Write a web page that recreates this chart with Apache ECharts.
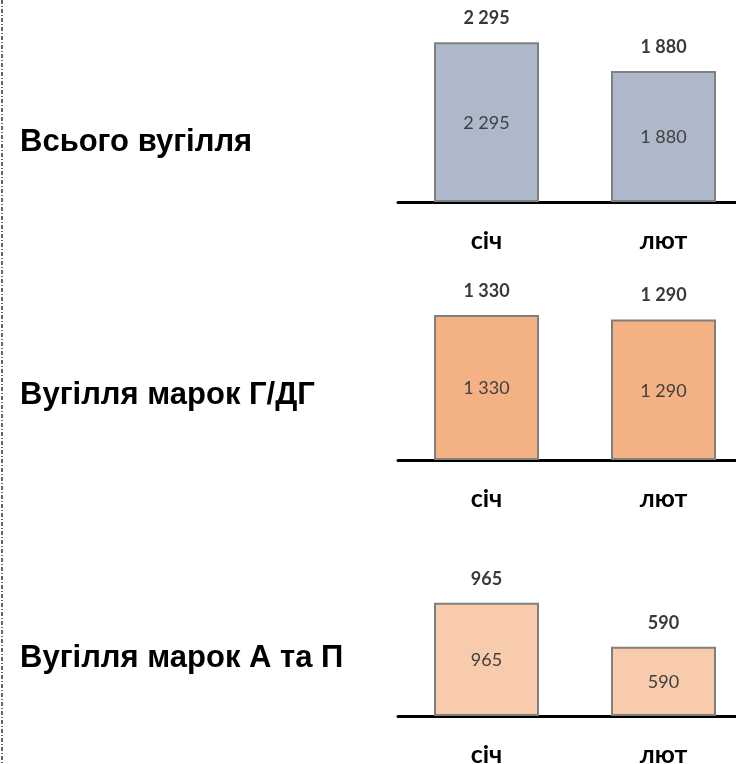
<!DOCTYPE html>
<html><head><meta charset="utf-8">
<script src="https://cdn.jsdelivr.net/npm/echarts@6/dist/echarts.min.js"></script>
<style>html,body{margin:0;padding:0;background:#fff}#c{width:736px;height:764px}</style>
</head><body><div id="c"></div>
<script>
const categories = ['січ', 'лют'];
const titles = ['Всього вугілля', 'Вугілля марок Г/ДГ', 'Вугілля марок А та П'];
const totalCoal = [2295, 1880];
const gdgCoal = [1330, 1290];
const apCoal = [965, 590];
const seriesValues = [totalCoal, gdgCoal, apCoal];

const colors = ['#adb9ca', '#f4b183', '#f8cbad'];
const yMax = [2600, 1450, 1100];
const gridTop = [21, 302, 587];
const gridH = [181, 158, 129];
const titleY = [142.5, 395, 658];

function fmt(v) { return String(v).replace(/\B(?=(\d{3})+(?!\d))/g, ' '); }

const grids = [], xAxes = [], yAxes = [], series = [], graphics = [];
for (let i = 0; i < 3; i++) {
  grids.push({ left: 398, width: 354, top: gridTop[i], height: gridH[i], outerBoundsMode: 'none', containLabel: false });
  xAxes.push({
    type: 'category', gridIndex: i, data: categories,
    axisLine: { lineStyle: { color: '#000', width: 3 } },
    axisTick: { show: false },
    axisLabel: { margin: 26, fontFamily: 'Lato', fontWeight: 'bold', fontSize: 25, color: '#000' }
  });
  yAxes.push({ type: 'value', gridIndex: i, min: 0, max: yMax[i], show: false, splitLine: { show: false } });
  series.push({
    type: 'bar', xAxisIndex: i, yAxisIndex: i, data: seriesValues[i], barWidth: 105,
    itemStyle: { color: colors[i], borderColor: '#7f7f7f', borderWidth: 2 },
    label: { show: true, position: 'inside', offset: [0, 1], formatter: p => fmt(p.value), fontFamily: 'Lato', fontSize: 18, color: '#404040' },
    z: 2
  });
  series.push({
    type: 'bar', xAxisIndex: i, yAxisIndex: i, data: seriesValues[i], barWidth: 105, barGap: '-100%',
    itemStyle: { color: 'rgba(0,0,0,0)' },
    label: { show: true, position: 'top', distance: 15, formatter: p => fmt(p.value), fontFamily: 'Lato', fontWeight: 'bold', fontSize: 18, color: '#3a3a3a' },
    z: 3
  });
  graphics.push({
    type: 'text', x: 20, y: titleY[i],
    style: { text: titles[i], font: 'bold 31px "Liberation Sans", Arial', fill: '#000', textVerticalAlign: 'middle' }
  });
}
graphics.push({ type: 'line', shape: { x1: 2, y1: 0, x2: 2, y2: 764 }, style: { stroke: '#333', lineWidth: 1.5, lineDash: [4, 2, 1, 2] } });

const chart = echarts.init(document.getElementById('c'), null, { renderer: 'canvas' });
chart.setOption({
  animation: false,
  grid: grids, xAxis: xAxes, yAxis: yAxes, series: series, graphic: graphics
});
</script></body></html>
